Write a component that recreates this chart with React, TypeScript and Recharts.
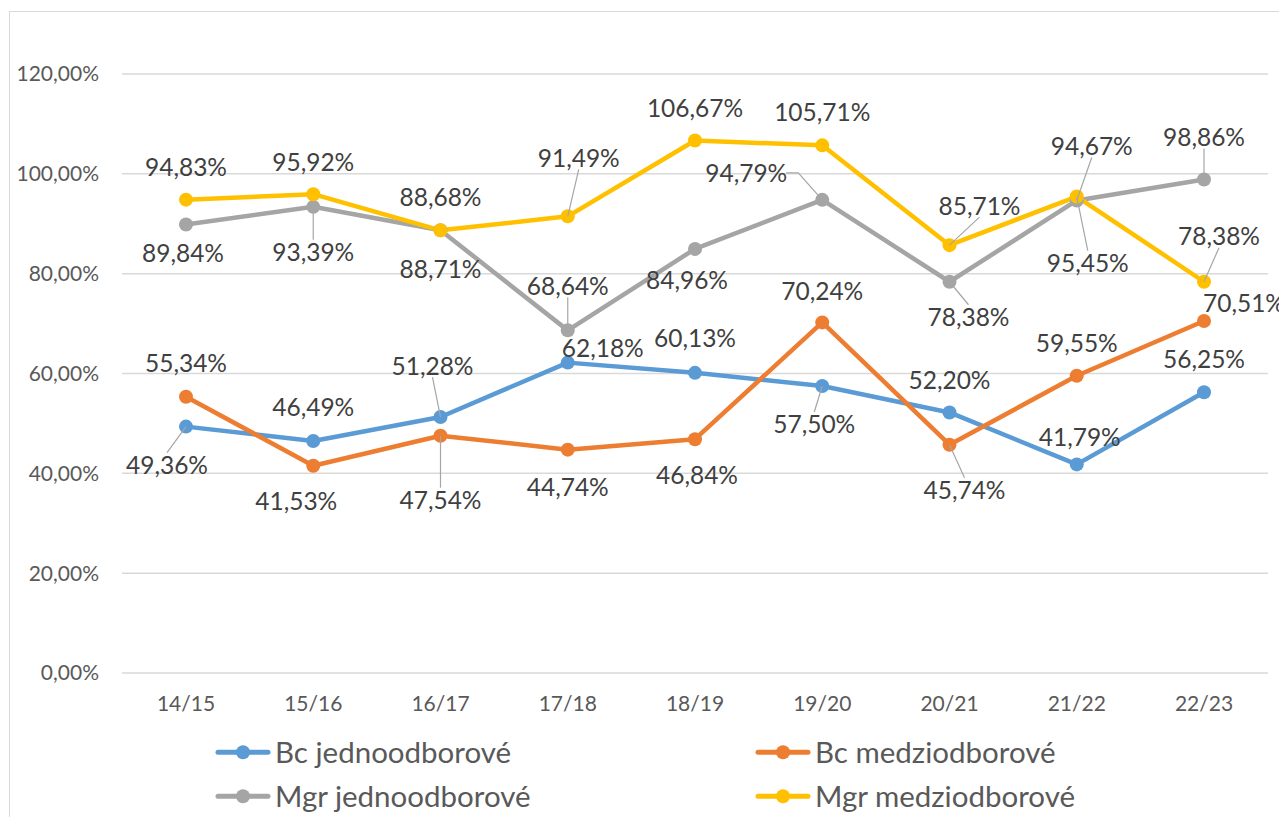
import React from "react"
import { LineChart, Line, XAxis, YAxis, CartesianGrid, LabelList } from "recharts"

const years = ["14/15", "15/16", "16/17", "17/18", "18/19", "19/20", "20/21", "21/22", "22/23"]
const bcJedno = [49.36, 46.49, 51.28, 62.18, 60.13, 57.5, 52.2, 41.79, 56.25]
const bcMedzi = [55.34, 41.53, 47.54, 44.74, 46.84, 70.24, 45.74, 59.55, 70.51]
const mgrJedno = [89.84, 93.39, 88.71, 68.64, 84.96, 94.79, 78.38, 94.67, 98.86]
const mgrMedzi = [94.83, 95.92, 88.68, 91.49, 106.67, 105.71, 85.71, 95.45, 78.38]
const yTicks = [0, 20, 40, 60, 80, 100, 120]

// label placement (offset from the point) and whether Excel drew a leader line
const bcJednoLabels: [number, number, boolean][] = [
  [-19, 38, true], [0, -34, false], [-8, -52, true], [35, -15, false], [0, -35, false],
  [-8, 38, true], [0, -33, false], [3, -28, false], [0, -34, false],
]
const bcMedziLabels: [number, number, boolean][] = [
  [0, -34, false], [-17, 35, false], [0, 64, true], [0, 37, false], [2, 35, false],
  [0, -32, false], [15, 45, true], [0, -33, false], [40, -19, false],
]
const mgrJednoLabels: [number, number, boolean][] = [
  [-3, 28, false], [0, 45, true], [0, 38, false], [0, -45, true], [-8, 31, false],
  [-76, -27, true], [19, 35, true], [15, -55, true], [0, -43, true],
]
const mgrMedziLabels: [number, number, boolean][] = [
  [0, -33, false], [0, -33, false], [0, -34, false], [11, -59, true], [0, -33, false],
  [0, -34, false], [30, -40, true], [11, 66, true], [15, -46, true],
]

const series = [
  { key: "bcJedno", name: "Bc jednoodborové", values: bcJedno, color: "#5B9BD5", labels: bcJednoLabels },
  { key: "bcMedzi", name: "Bc medziodborové", values: bcMedzi, color: "#ED7D31", labels: bcMedziLabels },
  { key: "mgrJedno", name: "Mgr jednoodborové", values: mgrJedno, color: "#A5A5A5", labels: mgrJednoLabels },
  { key: "mgrMedzi", name: "Mgr medziodborové", values: mgrMedzi, color: "#FFC000", labels: mgrMedziLabels },
]

const data = years.map((year, i) => {
  const row: any = { year }
  series.forEach(s => { row[s.key] = s.values[i] })
  return row
})

const pct = (v: number) => v.toFixed(2).replace(".", ",") + "%"

const makeLabel = (labels: [number, number, boolean][]) => (props: any) => {
  const { x, y, value, index } = props
  if (x == null || y == null) return null
  const [dx, dy, leader] = labels[index] || [0, -30, false]
  const cx = x + dx
  const cy = y + dy
  const hw = 40
  const hh = 12
  let pts = ""
  if (leader) {
    if (x > cx + hw) pts = `${cx + hw},${cy} ${cx + hw + 12},${cy} ${x},${y}`
    else if (x < cx - hw) pts = `${cx - hw},${cy} ${cx - hw - 12},${cy} ${x},${y}`
    else pts = `${cx},${y > cy ? cy + hh : cy - hh} ${x},${y}`
  }
  return (
    <g>
      {leader && <polyline points={pts} fill="none" stroke="#A6A6A6" strokeWidth={1.2} />}
      <text x={cx} y={cy} textAnchor="middle" dominantBaseline="central" fontSize={24.5} fill="#404040">
        {pct(value)}
      </text>
    </g>
  )
}

const legendPos = [
  { left: 207, top: 744 },
  { left: 747, top: 744 },
  { left: 207, top: 788 },
  { left: 747, top: 788 },
]

export default function App() {
  return (
    <div style={{ position: "relative", width: 1279, height: 809, overflow: "hidden", fontFamily: "Lato, 'Noto Sans', sans-serif" }}>
      <div style={{ position: "absolute", left: 1, top: 3, width: 1300, height: 900, borderTop: "1.5px solid #D9D9D9", borderLeft: "1.5px solid #D9D9D9" }} />
      <LineChart width={1279} height={809} data={data} margin={{ top: 66, right: 19, left: 0, bottom: 0 }}>
        <CartesianGrid vertical={false} stroke="#D9D9D9" strokeWidth={1.5} />
        <XAxis
          dataKey="year"
          height={144}
          padding={{ left: 64, right: 64 }}
          axisLine={false}
          tickLine={false}
          tickSize={0}
          tickMargin={23}
          tick={{ fontSize: 21, fill: "#595959" }}
        />
        <YAxis
          width={114}
          domain={[0, 120]}
          ticks={yTicks}
          axisLine={false}
          tickLine={false}
          tickSize={0}
          tickMargin={23}
          tickFormatter={pct}
          tick={{ fontSize: 21, fill: "#595959" }}
        />
        {series.map(s => (
          <Line
            key={s.key}
            dataKey={s.key}
            name={s.name}
            stroke={s.color}
            strokeWidth={4.5}
            strokeLinejoin="round"
            dot={{ r: 7, fill: s.color, stroke: "none" }}
            activeDot={false}
            isAnimationActive={false}
          >
            <LabelList dataKey={s.key} content={makeLabel(s.labels)} />
          </Line>
        ))}
      </LineChart>
      {series.map((s, i) => (
        <div
          key={s.key}
          style={{ position: "absolute", left: legendPos[i].left, top: legendPos[i].top, transform: "translateY(-50%)", display: "flex", alignItems: "center" }}
        >
          <svg width={56} height={20} style={{ marginRight: 4 }}>
            <line x1={3} y1={10} x2={53} y2={10} stroke={s.color} strokeWidth={5} strokeLinecap="round" />
            <circle cx={28} cy={10} r={7} fill={s.color} />
          </svg>
          <span style={{ fontSize: 29.5, color: "#595959", whiteSpace: "nowrap", lineHeight: 1 }}>{s.name}</span>
        </div>
      ))}
    </div>
  )
}
